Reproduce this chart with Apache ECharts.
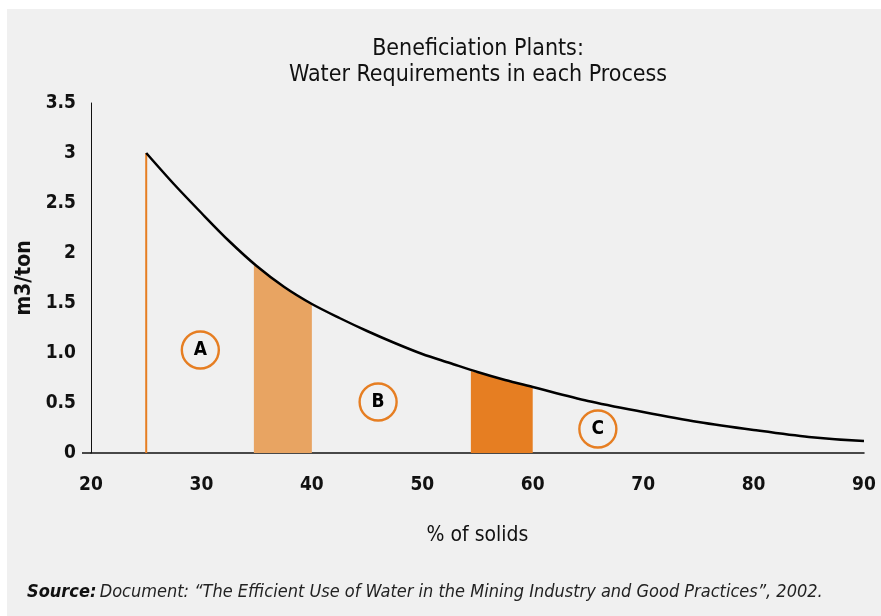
<!DOCTYPE html>
<html>
<head>
<meta charset="utf-8">
<script src="https://cdn.jsdelivr.net/npm/echarts@6/dist/echarts.min.js"></script>
<style>
html,body{margin:0;padding:0;background:#ffffff;}
#chart{width:881px;height:616px;}
</style>
</head>
<body>
<div id="chart"></div>
<script>
// ---- data ----
var curveX = [25, 27.5, 30, 32.5, 35, 37.5, 40, 42.5, 45, 47.5, 50, 52.5, 55, 57.5, 60, 65, 70, 75, 80, 85, 90];
var curveY = [3.0, 2.69, 2.40, 2.12, 1.87, 1.66, 1.49, 1.35, 1.22, 1.10, 0.99, 0.90, 0.81, 0.73, 0.66, 0.52, 0.41, 0.31, 0.23, 0.16, 0.12];
var bandLightX = [34.75, 37.5, 40];
var bandLightY = [1.88, 1.66, 1.49];
var bandDarkX = [54.4, 57.5, 60];
var bandDarkY = [0.82, 0.73, 0.66];
var startLineX = [25, 25];
var startLineY = [0, 3.0];
var zoneNames = ['A', 'B', 'C'];
var zoneX = [29.9, 46.0, 65.9];
var zoneY = [1.03, 0.51, 0.24];
var yTickLabels = ['0', '0.5', '1.0', '1.5', '2', '2.5', '3', '3.5'];
var xTickLabels = ['20', '30', '40', '50', '60', '70', '80', '90'];

function pairs(xs, ys) { return xs.map(function (x, i) { return [x, ys[i]]; }); }

var FONT = '"Liberation Sans Narrow", "DejaVu Sans Condensed", "Liberation Sans", sans-serif';
var ORANGE = '#E67E22';
var LIGHT = '#E8A462';

var chart = echarts.init(document.getElementById('chart'), null, {renderer: 'canvas'});
chart.setOption({
  animation: false,
  backgroundColor: 'transparent',
  grid: {left: 91, right: 17, top: 103, bottom: 163, containLabel: false},
  graphic: [
    {type: 'rect', z: -10, shape: {x: 7, y: 9, width: 874, height: 607}, style: {fill: '#f0f0f0'}, silent: true},
    {type: 'line', z: 10, shape: {x1: 82, y1: 453, x2: 91, y2: 453}, style: {stroke: '#111', lineWidth: 1.5}, silent: true},
    {type: 'text', x: 478, y: 49, style: {text: 'Beneficiation Plants:', font: '23px ' + FONT, fill: '#111', textAlign: 'center', textVerticalAlign: 'middle'}},
    {type: 'text', x: 478, y: 75, style: {text: 'Water Requirements in each Process', font: '23px ' + FONT, fill: '#111', textAlign: 'center', textVerticalAlign: 'middle'}},
    {type: 'text', x: 27, y: 592, style: {
      text: '{b|Source:} {i|Document: \u201CThe Efficient Use of Water in the Mining Industry and Good Practices\u201D, 2002.}',
      textVerticalAlign: 'middle',
      rich: {
        b: {fontFamily: FONT, fontSize: 18, fontWeight: 'bold', fontStyle: 'italic', fill: '#111', color: '#111'},
        i: {fontFamily: FONT, fontSize: 18, fontStyle: 'italic', fill: '#222', color: '#222'}
      }
    }}
  ],
  xAxis: {
    type: 'value', min: 20, max: 90, interval: 10,
    name: '% of solids', nameLocation: 'middle', nameGap: 72,
    nameTextStyle: {fontFamily: FONT, fontSize: 21, color: '#111'},
    axisLine: {show: true, lineStyle: {color: '#111', width: 1.5}},
    axisTick: {show: false},
    splitLine: {show: false},
    axisLabel: {
      margin: 23, fontFamily: FONT, fontSize: 19, fontWeight: 'bold', color: '#111',
      formatter: function (v) { return xTickLabels[Math.round((v - 20) / 10)]; }
    }
  },
  yAxis: {
    type: 'value', min: 0, max: 3.5, interval: 0.5,
    name: 'm3/ton', nameLocation: 'middle', nameGap: 53, nameRotate: 90,
    nameTextStyle: {fontFamily: FONT, fontSize: 21, fontWeight: 'bold', color: '#111'},
    axisLine: {show: true, lineStyle: {color: '#111', width: 1}},
    axisTick: {show: false},
    splitLine: {show: false},
    axisLabel: {
      margin: 15, fontFamily: FONT, fontSize: 19, fontWeight: 'bold', color: '#111',
      formatter: function (v) { return yTickLabels[Math.round(v / 0.5)]; }
    }
  },
  series: [
    {
      type: 'line', data: pairs(bandLightX, bandLightY), smooth: true, symbol: 'none', z: 1,
      lineStyle: {width: 0, color: LIGHT}, areaStyle: {color: LIGHT, opacity: 1}
    },
    {
      type: 'line', data: pairs(bandDarkX, bandDarkY), smooth: true, symbol: 'none', z: 1,
      lineStyle: {width: 0, color: ORANGE}, areaStyle: {color: ORANGE, opacity: 1}
    },
    {
      type: 'line', data: pairs(startLineX, startLineY), symbol: 'none', z: 2,
      lineStyle: {width: 2, color: ORANGE}
    },
    {
      type: 'line', data: pairs(curveX, curveY), smooth: 0.3, symbol: 'none', z: 3,
      lineStyle: {width: 2.5, color: '#000'}
    },
    {
      type: 'scatter', z: 4,
      data: zoneNames.map(function (n, i) { return {name: n, value: [zoneX[i], zoneY[i]]}; }),
      symbol: 'circle', symbolSize: 37,
      itemStyle: {color: 'rgba(0,0,0,0)', borderColor: ORANGE, borderWidth: 2.4, opacity: 1},
      label: {show: true, position: 'inside', formatter: '{b}', fontFamily: FONT, fontSize: 19, fontWeight: 'bold', color: '#000'}
    }
  ]
});
</script>
</body>
</html>
